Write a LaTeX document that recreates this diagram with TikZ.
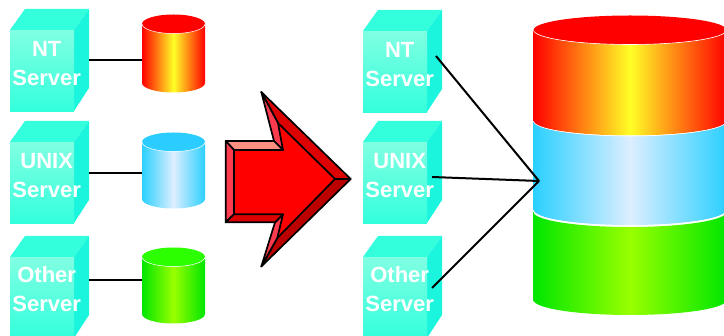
\documentclass[tikz,border=0pt]{standalone}
\usepackage{fontspec}
\setmainfont{Liberation Sans}
\usetikzlibrary{positioning}
\definecolor{srvtop}{HTML}{33FFDD}
\definecolor{srvside}{HTML}{1CF5DD}
\definecolor{srvlight}{HTML}{80FFE2}
\definecolor{srvdark}{HTML}{33FFDC}
\definecolor{bandyellow}{HTML}{FFFF26}
\definecolor{bandsky}{HTML}{2BD0FF}
\definecolor{bandpale}{HTML}{DDEEFF}
\definecolor{bandgreen}{HTML}{00E600}
\definecolor{bandlime}{HTML}{99FF00}
\definecolor{lidsky}{HTML}{2BCCFF}
\definecolor{lidgreen}{HTML}{2BFF00}
\definecolor{arrowpink}{HTML}{FF3B50}
\definecolor{arrowsalmon}{HTML}{FF8F80}
\definecolor{arrowdark}{HTML}{DD0000}
\definecolor{arrowdeep}{HTML}{BB0000}
\begin{document}
\begin{tikzpicture}[x=1pt,y=-1pt,
srvface/.style={anchor=north west,minimum width=64pt,minimum height=81pt,inner sep=0pt,
    top color=srvlight,bottom color=srvdark},
srvtext/.style={text=white,font=\fontsize{22}{29}\selectfont\bfseries,align=center,inner sep=0pt},
wire/.style={line width=2pt,black},
arrowedge/.style={draw=black,line width=1.7pt,line join=round},
redband/.style={left color=red,right color=red,middle color=bandyellow},
blueband/.style={left color=bandsky,right color=bandsky,middle color=bandpale},
greenband/.style={left color=bandgreen,right color=bandgreen,middle color=bandlime},
pics/server/.style 2 args={code={
    \fill [srvtop] (0,0) -- (15,-21) -- (79,-21) -- (64,0) -- cycle;
    \fill [srvside] (64,0) -- (79,-21) -- (79,58) -- (64,81) -- cycle;
    \node (front) [srvface] at (0,0) {};
    \node [srvtext,xshift=4.5pt,yshift=#1] at (front.center) {#2};
}},
pics/band/.style n args={4}{code={
    \shade [#4] (-#1,0) -- (-#1,#3) arc [start angle=180,end angle=0,x radius=#1,y radius=#2]
        -- (#1,0) arc [start angle=0,end angle=180,x radius=#1,y radius=#2] -- cycle;
    \node (box) [inner sep=0pt,minimum width=2*#1 pt,minimum height=#3 pt,anchor=north] at (0,0) {};
}}]
\clip (0,0) rectangle (724,336);

% left servers
\pic (srvA) at (10,30) {server={7pt}{NT\\Server}};
\pic (srvB) at (10,142) {server={7.5pt}{UNIX\\Server}};
\pic (srvC) at (10,257) {server={9pt}{Other\\Server}};

% small drums
\pic (drumA) at (173.5,24) {band={31.5}{9.5}{59}{redband}};
\fill [red] (173.5,24) ellipse [x radius=31.5,y radius=9.5];
\draw [white,line width=.5pt] (142,24) arc [start angle=180,end angle=0,x radius=31.5,y radius=9.5];

\pic (drumB) at (173.5,142) {band={31.5}{9.5}{57}{blueband}};
\fill [lidsky] (173.5,142) ellipse [x radius=31.5,y radius=9.5];
\draw [white,line width=.5pt] (142,142) arc [start angle=180,end angle=0,x radius=31.5,y radius=9.5];

\pic (drumC) at (173.5,257) {band={31.5}{9.5}{57}{greenband}};
\fill [lidgreen] (173.5,257) ellipse [x radius=31.5,y radius=9.5];
\draw [white,line width=.5pt] (142,257) arc [start angle=180,end angle=0,x radius=31.5,y radius=9.5];

\coordinate (outA) at (89,60);
\coordinate (outB) at (89,173);
\coordinate (outC) at (89,280);
\draw [wire] (outA) -- (outA -| drumAbox.west);
\draw [wire] (outB) -- (outB -| drumBbox.west);
\draw [wire] (outC) -- (outC -| drumCbox.west);

% big arrow
\fill [red] (234,150) -- (283,150) -- (278,123) -- (335,179) -- (277.3,238) -- (283,214.3) -- (234,214.3) -- cycle;
\filldraw [arrowedge,fill=arrowdark] (261.3,92) -- (350.7,179) -- (335,179) -- (278,123) -- cycle;
\filldraw [arrowedge,fill=arrowdeep] (350.7,179) -- (261.3,266.5) -- (277.3,238) -- (335,179) -- cycle;
\filldraw [arrowedge,fill=arrowpink] (261.3,92) -- (274,141) -- (283,150) -- (278,123) -- cycle;
\filldraw [arrowedge,fill=arrowpink] (261.3,266.5) -- (275,222.3) -- (283,214.3) -- (277.3,238) -- cycle;
\filldraw [arrowedge,fill=arrowsalmon] (225.7,141) -- (274,141) -- (283,150) -- (234,150) -- cycle;
\filldraw [arrowedge,fill=arrowpink] (225.7,141) -- (234,150) -- (234,214.3) -- (225.7,222.3) -- cycle;
\filldraw [arrowedge,fill=arrowdark] (225.7,222.3) -- (234,214.3) -- (283,214.3) -- (275,222.3) -- cycle;

% right servers
\pic (srvD) at (363,31) {server={7pt}{NT\\Server}};
\pic (srvE) at (363,142) {server={7.5pt}{UNIX\\Server}};
\pic (srvF) at (363,257) {server={9pt}{Other\\Server}};

% big drum
\pic (bandC) at (630,212) {band={96.5}{15}{88}{greenband}};
\pic (bandB) at (630,121) {band={96.5}{15}{89}{blueband}};
\draw [white,line width=.6pt] (533.5,210) arc [start angle=180,end angle=0,x radius=96.5,y radius=16];
\pic (bandA) at (630,30) {band={96.5}{14.5}{91}{redband}};
\draw [white,line width=.6pt] (533.5,121) arc [start angle=180,end angle=0,x radius=96.5,y radius=15];
\fill [red] (630,30) ellipse [x radius=96.5,y radius=14.5];
\draw [white,line width=.6pt] (533.5,30) arc [start angle=180,end angle=0,x radius=96.5,y radius=14.5];

\coordinate (hub) at (539,181);
\coordinate (outD) at (436,56);
\coordinate (outE) at (432,177);
\coordinate (outF) at (432,288);
\draw [wire] (outD) -- (hub);
\draw [wire] (outE) -- (hub);
\draw [wire] (outF) -- (hub);
\end{tikzpicture}
\end{document}
